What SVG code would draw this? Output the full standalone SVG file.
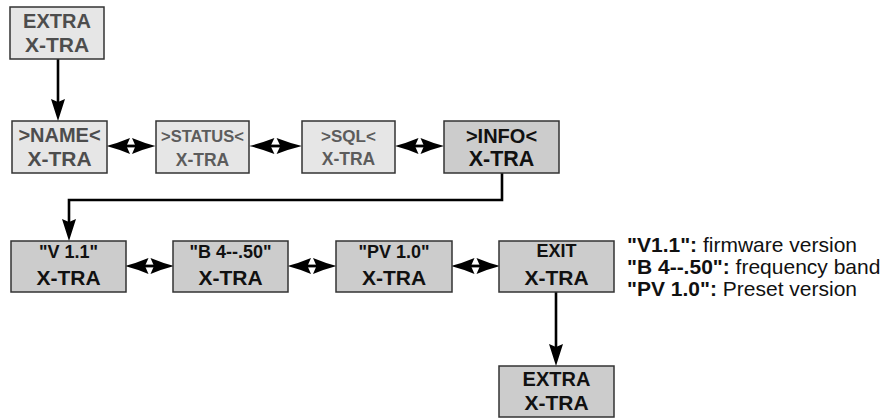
<svg xmlns="http://www.w3.org/2000/svg" xmlns:xlink="http://www.w3.org/1999/xlink" width="893" height="419" viewBox="0 0 893 419">
<style>
  .light { fill:#e6e6e6; stroke:#333; stroke-width:1.5; }
  .dark { fill:#cccccc; stroke:#333; stroke-width:1.5; }
  text { font-family:"Liberation Sans", Arial, sans-serif; font-weight:bold; text-anchor:middle; }
  .g1 { fill:#4d4d4d; }
  .g2 { fill:#5c5c5c; }
  .bk { fill:#111; }
  .line { fill:none; stroke:#000; stroke-width:2.6; }
  .leg { text-anchor:start; font-size:21px; fill:#111; }
  .leg tspan.n { font-weight:normal; }
</style>
<defs>
  <g id="dbl">
    <path d="M-24.5,0 Q-13,-3 -1,-8 L-4.5,0 L-1,8 Q-13,3 -24.5,0 Z" fill="#000"/>
    <path d="M24.5,0 Q13,-3 1,-8 L4.5,0 L1,8 Q13,3 24.5,0 Z" fill="#000"/>
    <rect x="-6" y="-1.4" width="12" height="2.8" fill="#000"/>
  </g>
  <path id="dh" d="M0,0 L-7,-22 L0,-19 L7,-22 Z" fill="#000"/>
</defs>

<g id="connectors">
  <line class="line" x1="58" y1="59" x2="58" y2="102"/>
  <use xlink:href="#dh" x="58" y="121"/>
  <use xlink:href="#dbl" transform="translate(131,146)"/>
  <use xlink:href="#dbl" transform="translate(275.5,146) scale(1.08,1)"/>
  <use xlink:href="#dbl" transform="translate(419.5,146)"/>
  <polyline class="line" points="502,173 502,200 69,200 69,222"/>
  <use xlink:href="#dh" x="69" y="241"/>
  <use xlink:href="#dbl" transform="translate(149.5,266)"/>
  <use xlink:href="#dbl" transform="translate(312,266)"/>
  <use xlink:href="#dbl" transform="translate(475.5,266)"/>
  <line class="line" x1="556" y1="292" x2="556" y2="347"/>
  <use xlink:href="#dh" x="556" y="366"/>
</g>

<g id="n-extra-top">
  <rect class="light" x="10" y="7" width="94" height="52"/>
  <text class="g1" x="57" y="28" font-size="20">EXTRA</text>
  <text class="g1" x="57" y="52" font-size="21">X-TRA</text>
</g>
<g id="n-name">
  <rect class="light" x="12" y="121" width="95" height="52"/>
  <text class="g1" x="59.5" y="142" font-size="20">&gt;NAME&lt;</text>
  <text class="g1" x="59.5" y="166" font-size="21">X-TRA</text>
</g>
<g id="n-status">
  <rect class="light" x="156" y="121" width="93" height="52"/>
  <text class="g2" x="202.5" y="142" font-size="16.5">&gt;STATUS&lt;</text>
  <text class="g2" x="202.5" y="166" font-size="17.5">X-TRA</text>
</g>
<g id="n-sql">
  <rect class="light" x="302" y="121" width="93" height="52"/>
  <text class="g2" x="348.5" y="142" font-size="17">&gt;SQL&lt;</text>
  <text class="g2" x="348.5" y="165" font-size="17.5">X-TRA</text>
</g>
<g id="n-info">
  <rect class="dark" x="444" y="121" width="115" height="52"/>
  <text class="bk" x="501.5" y="143" font-size="20">&gt;INFO&lt;</text>
  <text class="bk" x="501.5" y="166" font-size="21.5">X-TRA</text>
</g>

<g id="n-v11">
  <rect class="dark" x="11" y="241" width="115" height="51"/>
  <text class="bk" x="68.5" y="258" font-size="18">"V 1.1"</text>
  <text class="bk" x="68.5" y="285" font-size="21">X-TRA</text>
</g>
<g id="n-b4">
  <rect class="dark" x="173" y="241" width="115" height="51"/>
  <text class="bk" x="230.5" y="258" font-size="18">"B 4--.50"</text>
  <text class="bk" x="230.5" y="285" font-size="21">X-TRA</text>
</g>
<g id="n-pv">
  <rect class="dark" x="336" y="241" width="116" height="51"/>
  <text class="bk" x="394" y="258" font-size="18">"PV 1.0"</text>
  <text class="bk" x="394" y="285" font-size="21">X-TRA</text>
</g>
<g id="n-exit">
  <rect class="dark" x="499" y="241" width="115" height="51"/>
  <text class="bk" x="556.5" y="257" font-size="18">EXIT</text>
  <text class="bk" x="556.5" y="285" font-size="21">X-TRA</text>
</g>
<g id="n-extra-bottom">
  <rect class="dark" x="499" y="366" width="115" height="51"/>
  <text class="bk" x="556.5" y="386" font-size="20">EXTRA</text>
  <text class="bk" x="556.5" y="410" font-size="21">X-TRA</text>
</g>

<g id="legend">
  <text class="leg" x="627" y="252">"V1.1": <tspan class="n">firmware version</tspan></text>
  <text class="leg" x="627" y="274">"B 4--.50": <tspan class="n">frequency band</tspan></text>
  <text class="leg" x="627" y="296">"PV 1.0": <tspan class="n">Preset version</tspan></text>
</g>
</svg>
